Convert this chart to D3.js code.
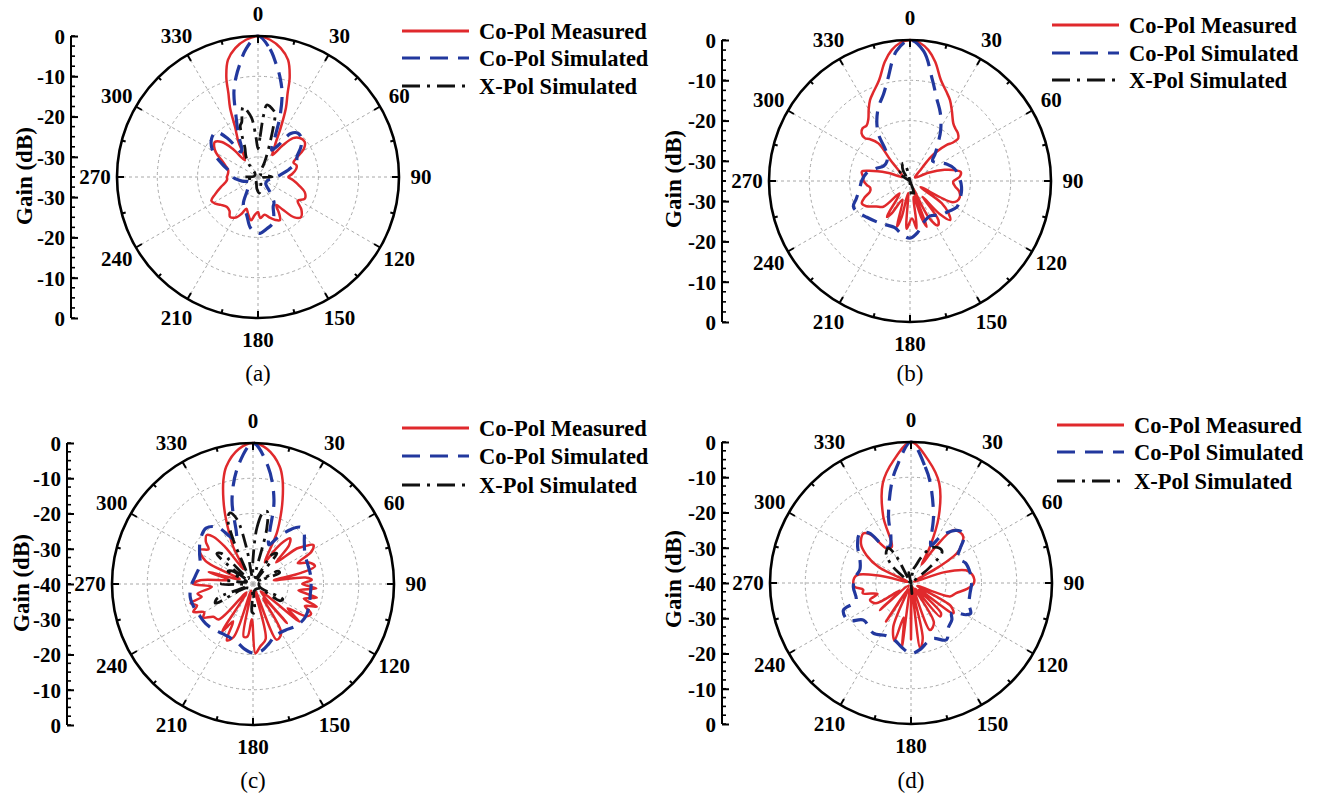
<!DOCTYPE html>
<html>
<head>
<meta charset="utf-8">
<script src="https://cdn.jsdelivr.net/npm/d3@7"></script>
<style>
  body { margin: 0; background: #fff; }
  svg { display: block; }
</style>
</head>
<body>
<svg id="fig" width="1320" height="803"></svg>
<script>
// ---- Series names and tick labels ----
const seriesNames = ["Co-Pol Measured", "Co-Pol Simulated", "X-Pol Simulated"];
const angleTicks = [0, 30, 60, 90, 120, 150, 180, 210, 240, 270, 300, 330];
const gainTicksAB = [0, -10, -20, -30];
const gainTicksCD = [0, -10, -20, -30, -40];
const panelLabels = ["(a)", "(b)", "(c)", "(d)"];

// ---- Radiation patterns: [angle (deg), gain (dB)] ----
// (a)
const measuredA = [[0,0],[5,-0.8],[10,-2.5],[14.4,-5],[17.6,-9],[19.5,-13],[22,-16.5],[24.6,-21.3],[28,-26],[33,-28.5],[38,-25],[42,-22],[47,-20.8],[53,-20.5],[58,-21.5],[63,-24],[68,-25.5],[73,-25],[78,-25.3],[85,-26.5],[90,-27.5],[95,-26.3],[102,-24.5],[108,-22.8],[115,-22.2],[121,-23.5],[127,-21.5],[133,-20.4],[138,-21.5],[143,-25],[147,-26.7],[150,-24.5],[153,-23],[158,-23.5],[164,-24.5],[170,-25.5],[177,-24.8],[180,-26.3],[185,-25.5],[189,-24.1],[195,-25.5],[200,-26.6],[204,-25],[208,-23.7],[215,-22.9],[220,-24],[226,-24.3],[233,-23.5],[238,-22.5],[243,-22],[248,-23.5],[255,-25.5],[260,-26.7],[265,-27.3],[270,-27.3],[276,-27.5],[283,-27.4],[289,-26.5],[295,-25],[300,-23],[305,-21.7],[309,-21.2],[314,-22.5],[318,-25.5],[322,-29.7],[327,-28.5],[331,-25],[335.4,-21.3],[338,-16.5],[340.5,-13],[342.4,-9],[345.6,-5],[350,-2.5],[355,-0.8]];
const simulatedA = [[0,0],[5.4,-3.1],[9,-6.5],[12.4,-9.6],[16,-13.3],[20,-19.1],[23,-24.2],[27,-27.5],[32,-26],[37,-21.5],[42,-20.3],[48,-20.5],[55,-22],[62,-24],[69,-24.8],[76,-27],[85,-29.5],[95,-31],[110,-32.5],[130,-32.5],[142,-30],[148,-27.5],[153,-26.7],[158,-24.5],[162,-23],[170,-22],[178,-21],[184,-21.5],[189,-22.4],[196,-25],[203,-26.5],[209,-27.5],[220,-31],[240,-32.5],[255,-31],[268,-29],[280,-28],[290,-25.5],[300,-22],[310,-20],[317,-19.8],[322,-23],[326,-27.5],[330,-27],[334,-24.5],[337,-22],[340,-19.1],[344,-13.3],[347.6,-9.6],[351,-6.5],[354.6,-3.1]];
const crossPolA = [[0,-28],[3,-25],[5,-20],[7,-17],[10,-17.3],[13,-18],[15,-18.6],[17,-22],[20,-27],[24,-31],[30,-34],[60,-34],[80,-33],[90,-31.5],[100,-34],[130,-34],[160,-33],[175,-31],[185,-32],[210,-34],[240,-34],[262,-32.5],[270,-31.5],[280,-34],[315,-34],[325,-31],[330,-29],[336,-27],[339,-23.8],[341,-21.5],[343.5,-20.8],[346,-18.5],[348,-17.2],[351,-18.5],[354,-20.4],[357,-25]];

// (b)
const measuredB = [[0,0],[4,-0.6],[8,-2.2],[12,-4.8],[17,-8.8],[22,-11],[26.3,-12.6],[31,-14.8],[36.9,-17.1],[41,-17.8],[45,-18.2],[48.5,-19],[48,-20.8],[45.5,-22.2],[42,-25.5],[41,-27.5],[44,-31.5],[55,-33.5],[66,-30],[72,-26],[75.7,-23.9],[79.8,-22.2],[85,-22.6],[91,-24.3],[97,-23.7],[102,-22.5],[108,-22],[113,-22.3],[117,-23.5],[120,-32],[125,-25.4],[130,-22.5],[134,-21.1],[138,-24],[141.5,-30],[144,-23],[148,-22],[153,-25],[157,-33],[160,-22.9],[162.6,-25.3],[167,-31],[172,-23.1],[177,-25.7],[184,-23.1],[189,-32],[193,-25.9],[196,-23.2],[202,-30],[209.5,-25.8],[213,-24.4],[220,-31],[226,-25.8],[233,-24.5],[240,-22.5],[245,-21.8],[250,-23],[255,-24.7],[260,-25],[265,-24.2],[270,-23.5],[275,-23.3],[281,-22.8],[284,-24.5],[290,-29],[300,-33],[310,-32],[315,-30],[317,-27.8],[320,-22.8],[316,-20.5],[313.5,-19.6],[314.6,-18.1],[318,-17.4],[322,-17.5],[326,-16.5],[330,-14.5],[333.7,-12.6],[338,-11],[343,-8.8],[348,-4.8],[352,-2.2],[356,-0.6]];
const simulatedB = [[0,0],[6,-2.6],[12.5,-9.3],[18,-13.5],[24,-16.5],[31,-20.2],[37,-23.5],[43,-25.9],[48,-27.5],[55,-27],[65,-25],[75,-23.5],[85,-22.8],[93,-22.3],[100,-22],[110,-21.8],[119,-21.7],[128,-22.8],[138.6,-23.7],[150,-25],[163,-24],[172,-22],[180,-20.8],[188,-21.5],[198,-22.8],[208.6,-22.6],[218,-22],[230,-21],[240,-19.8],[246,-19.6],[252,-21],[262,-22.4],[270,-23],[280,-24],[290,-26],[300,-27.5],[310,-27.5],[320,-26],[326,-21],[331,-18],[337,-15],[343,-12.5],[347.5,-9.3],[354,-2.6]];
const crossPolB = [[0,-35],[150,-35],[162,-32],[168,-31],[174,-31.5],[180,-35],[295,-35],[305,-31.5],[310,-31.3],[318,-33.5],[326,-32],[333,-30.8],[339,-30.3],[345,-31.5],[352,-35]];

// (c)
const measuredC = [[0,0],[6,-1.5],[12.8,-5.8],[16,-9.5],[19.3,-14.6],[22,-19],[25,-24],[28.7,-33],[33,-28],[36,-25],[39,-23.3],[43,-25],[47,-31],[51,-24],[53.4,-22.2],[57,-19.6],[61,-21],[65,-26],[69,-23],[74,-21.7],[77,-26],[80,-34],[83,-25],[86,-23.3],[90,-26],[94,-22],[98,-27],[102,-21.5],[106,-25],[109.6,-20.8],[113,-24],[117,-21.5],[121,-22.2],[125,-28],[129,-23],[134,-37],[139,-25.3],[144,-35],[150,-24],[157,-22.8],[162,-38],[167,-24],[173.6,-22.1],[178,-20.3],[182,-30],[186,-25],[190,-24.8],[195,-38],[200,-24],[205,-22.4],[208,-28],[213,-24],[218,-37],[224,-26],[230.5,-25.4],[236,-23],[240,-24],[245,-21.3],[249,-23],[253,-21.5],[256,-25],[260,-24],[266,-28.3],[270,-23],[274,-25],[280,-33],[285,-27],[290,-36],[296,-25],[302.7,-22.1],[308,-24],[312,-22],[316.6,-20.9],[320,-22.5],[323,-26.8],[328,-35],[332,-28],[335,-24],[338,-19],[340.7,-14.6],[344,-9.5],[347.2,-5.8],[354,-1.5]];
const simulatedC = [[0,0],[7.3,-6.4],[14,-15.4],[18,-24.8],[22,-28],[28,-25],[35,-21],[40,-19],[45,-19.5],[50,-21],[60,-23],[70,-23.5],[80,-23.5],[90,-23.5],[100,-23.5],[110,-23],[120,-22.5],[126,-22.5],[135,-23],[145,-24],[157,-24],[165,-22.5],[172,-21],[180,-20.4],[188,-21.5],[196,-23],[205,-23.5],[211,-23.5],[220,-23],[230,-22.5],[239,-22.4],[248,-22],[258,-21.8],[268,-22.4],[278,-23.5],[290,-24],[300,-22.5],[310,-20.5],[320,-19.3],[328,-21],[334,-25],[339,-27],[342,-24.8],[346,-15.4],[352.7,-6.4]];
const crossPolC = [[0,-33],[4,-24],[8,-19.5],[11,-19],[14,-24],[18,-38],[28,-38],[33,-30],[38,-29],[44,-38],[58,-38],[63,-32],[67,-31.8],[72,-38],[112,-38],[117,-30.5],[122,-31],[128,-38],[170,-38],[177,-31.8],[182,-32],[188,-38],[236,-38],[243,-28],[248,-29],[254,-38],[264,-38],[270,-31],[276,-32],[284,-38],[292,-38],[297,-32],[302,-33],[306,-38],[306,-34],[310,-26.6],[314,-27.5],[320,-38],[332,-36],[336,-26],[339,-20],[342,-18.8],[346,-21],[350,-30],[355,-38]];

// (d)
const measuredD = [[0,0],[8,-4.8],[15.8,-10.6],[22.7,-19.6],[27.6,-28.4],[30,-34],[34,-28],[38.6,-20.8],[44,-20],[48.5,-20.2],[53,-22],[57,-24.5],[60,-31],[65,-39],[72,-30],[77,-24],[82,-22.5],[87,-22],[91,-22.3],[96,-24],[103,-27],[109,-28.3],[115,-38],[120,-27],[125.6,-25.2],[130,-37],[135,-28],[139,-27.4],[145,-38],[150,-27],[158,-25.6],[163,-39],[168,-24],[172,-21.3],[176,-38],[180,-24],[184,-39],[188,-21.7],[192,-30],[196,-23],[202,-26.6],[207,-38],[213,-27],[220,-39],[229,-28.3],[236,-36],[240,-28.5],[247.5,-27.4],[252,-30],[258,-26],[262,-26.3],[266,-24],[270,-23.6],[278,-24.4],[283,-31],[290,-39],[296,-30],[302,-25.1],[308,-22],[316,-20.5],[320,-22],[325,-28],[332,-28.4],[337.3,-19.6],[344.2,-10.6],[352,-4.8]];
const simulatedD = [[0,0],[7,-6.8],[11,-11.2],[18.7,-20.1],[24,-26],[28,-28],[33,-24],[40,-20.5],[45,-19.5],[50,-20.5],[55,-23],[62,-25],[70,-23.5],[80,-23],[90,-22.8],[100,-23],[110,-22.5],[117,-21],[120,-22],[126,-25.7],[132,-24.4],[140,-23.5],[148,-21],[158,-23],[165,-22.5],[172,-21],[180,-20],[188,-21.5],[195,-23],[205,-23.5],[217,-22.2],[232,-22.9],[239,-19.3],[248,-19.3],[252,-23.6],[266,-23.6],[275,-24],[285,-25],[295,-24],[305,-21.5],[314,-19.8],[320,-21.5],[324,-27.3],[330,-28],[336,-26],[341.3,-20.1],[349,-11.2],[353,-6.8]];
const crossPolD = [[0,-40],[10,-36],[15,-35],[22,-32],[30,-28.5],[38,-27.3],[45,-27.5],[50,-33],[56,-40],[170,-40],[175,-37],[180,-40],[300,-40],[312,-33],[320,-29],[327,-28.2],[331,-31],[336,-40],[348,-37],[355,-40]];

// ---- Drawing ----
const svg = d3.select("#fig");
const FONT = "'Liberation Serif', 'Times New Roman', Times, serif";
const R = 141;

const styles = [
  { color: "#e0292c", width: 2.5, dash: null },
  { color: "#22389e", width: 3.2, dash: "16,9" },
  { color: "#111111", width: 2.8, dash: "14,6,3,6" }
];

const panels = [
  { cx: 258, cy: 177, min: -35, axisX: 71, ticks: gainTicksAB, legX: 402, legY: [31, 58, 86], labelY: 373, gainX: 24, gainY: 176, series: [measuredA, simulatedA, crossPolA] },
  { cx: 910, cy: 181, min: -35, axisX: 722, ticks: gainTicksAB, legX: 1052, legY: [25, 53, 80], labelY: 373, gainX: 673, gainY: 179, series: [measuredB, simulatedB, crossPolB] },
  { cx: 253, cy: 584, min: -40, axisX: 67, ticks: gainTicksCD, legX: 402, legY: [428, 456, 485], labelY: 780, gainX: 21, gainY: 583, series: [measuredC, simulatedC, crossPolC] },
  { cx: 911, cy: 583, min: -40, axisX: 722, ticks: gainTicksCD, legX: 1057, legY: [425, 452, 481], labelY: 780, gainX: 673, gainY: 579, series: [measuredD, simulatedD, crossPolD] }
];

panels.forEach((p, i) => {
  const g = svg.append("g");
  const r = d3.scaleLinear().domain([p.min, 0]).range([0, R]).clamp(true);
  const rad = d => d * Math.PI / 180;

  const polar = g.append("g").attr("transform", `translate(${p.cx},${p.cy})`);

  // grid rings
  const rings = p.ticks.filter(v => v < 0 && v > p.min);
  polar.selectAll("circle.ring").data(rings).join("circle")
    .attr("r", d => r(d)).attr("fill", "none")
    .attr("stroke", "#a8a8a8").attr("stroke-width", 1).attr("stroke-dasharray", "3,3");

  // spokes
  polar.selectAll("line.spoke").data(angleTicks).join("line")
    .attr("x1", 0).attr("y1", 0)
    .attr("x2", d => R * Math.sin(rad(d))).attr("y2", d => -R * Math.cos(rad(d)))
    .attr("stroke", "#a8a8a8").attr("stroke-width", 1).attr("stroke-dasharray", "3,3");

  // pattern curves
  const line = d3.lineRadial()
    .angle(d => rad(d[0]))
    .radius(d => r(d[1]))
    .curve(d3.curveCatmullRomClosed.alpha(0.5));

  p.series.forEach((s, k) => {
    const st = styles[k];
    polar.append("path")
      .attr("d", line(s))
      .attr("fill", "none")
      .attr("stroke", st.color)
      .attr("stroke-width", st.width)
      .attr("stroke-linejoin", "round")
      .attr("stroke-dasharray", st.dash);
  });

  // outer circle and angular ticks
  polar.append("circle").attr("r", R).attr("fill", "none")
    .attr("stroke", "#000").attr("stroke-width", 2.6);
  const angTicks = d3.range(0, 360, 15);
  polar.selectAll("line.at").data(angTicks).join("line")
    .attr("x1", d => R * Math.sin(rad(d))).attr("y1", d => -R * Math.cos(rad(d)))
    .attr("x2", d => (R - (d % 30 === 0 ? 7 : 4)) * Math.sin(rad(d)))
    .attr("y2", d => -(R - (d % 30 === 0 ? 7 : 4)) * Math.cos(rad(d)))
    .attr("stroke", "#000").attr("stroke-width", 2);

  polar.selectAll("text.al").data(angleTicks).join("text")
    .attr("x", d => 163 * Math.sin(rad(d)))
    .attr("y", d => -163 * Math.cos(rad(d)))
    .attr("text-anchor", "middle").attr("dominant-baseline", "central")
    .attr("font-family", FONT).attr("font-weight", "bold").attr("font-size", 21)
    .text(d => d);

  // radial gain axis (mirrored above and below the centre)
  const yTop = d3.scaleLinear().domain([p.min, 0]).range([p.cy, p.cy - R]);
  const yBot = d3.scaleLinear().domain([p.min, 0]).range([p.cy, p.cy + R]);
  const ax = g.append("g").attr("transform", `translate(${p.axisX},0)`);
  ax.append("line").attr("x1", 0).attr("x2", 0)
    .attr("y1", p.cy - R).attr("y2", p.cy + R)
    .attr("stroke", "#000").attr("stroke-width", 2);
  const minor = d3.range(p.min, 0.001, 2.5);
  [yTop, yBot].forEach(sc => {
    ax.append("g").selectAll("line").data(minor).join("line")
      .attr("x1", 0).attr("x2", 4)
      .attr("y1", d => sc(d)).attr("y2", d => sc(d))
      .attr("stroke", "#000").attr("stroke-width", 1.6);
  });
  const topTicks = p.ticks;
  const botTicks = p.ticks.filter(v => v > p.min);
  [[yTop, topTicks], [yBot, botTicks]].forEach(([sc, tv]) => {
    const a = ax.append("g")
      .call(d3.axisRight(sc).tickValues(tv).tickSize(7).tickSizeOuter(0).tickFormat(d3.format("d")));
    a.select(".domain").remove();
    a.attr("font-family", FONT).attr("font-size", 21);
    a.selectAll(".tick line").attr("stroke-width", 2);
    a.selectAll(".tick text")
      .attr("x", -6).attr("dy", "0.35em").attr("text-anchor", "end")
      .attr("font-weight", "bold").attr("fill", "#000")
      .text(d => d === 0 ? "0" : "-" + Math.abs(d));
  });

  g.append("text")
    .attr("transform", `translate(${p.gainX},${p.gainY}) rotate(-90)`)
    .attr("text-anchor", "middle").attr("dominant-baseline", "central")
    .attr("font-family", FONT).attr("font-weight", "bold").attr("font-size", 23)
    .text("Gain (dB)");

  // legend
  const leg = g.append("g");
  seriesNames.forEach((name, k) => {
    const st = styles[k];
    const y = p.legY[k];
    leg.append("line")
      .attr("x1", p.legX).attr("x2", p.legX + 67).attr("y1", y).attr("y2", y)
      .attr("stroke", st.color).attr("stroke-width", 3.2)
      .attr("stroke-dasharray", k === 1 ? "18,10" : (k === 2 ? "18,7,3,7" : null));
    leg.append("text")
      .attr("x", p.legX + 77).attr("y", y).attr("dy", "0.35em")
      .attr("font-family", FONT).attr("font-weight", "bold").attr("font-size", 22.5)
      .text(name);
  });

  // panel caption
  g.append("text")
    .attr("x", p.cx).attr("y", p.labelY).attr("dy", "0.35em")
    .attr("text-anchor", "middle")
    .attr("font-family", FONT).attr("font-size", 23)
    .text(panelLabels[i]);
});
</script>
</body>
</html>
